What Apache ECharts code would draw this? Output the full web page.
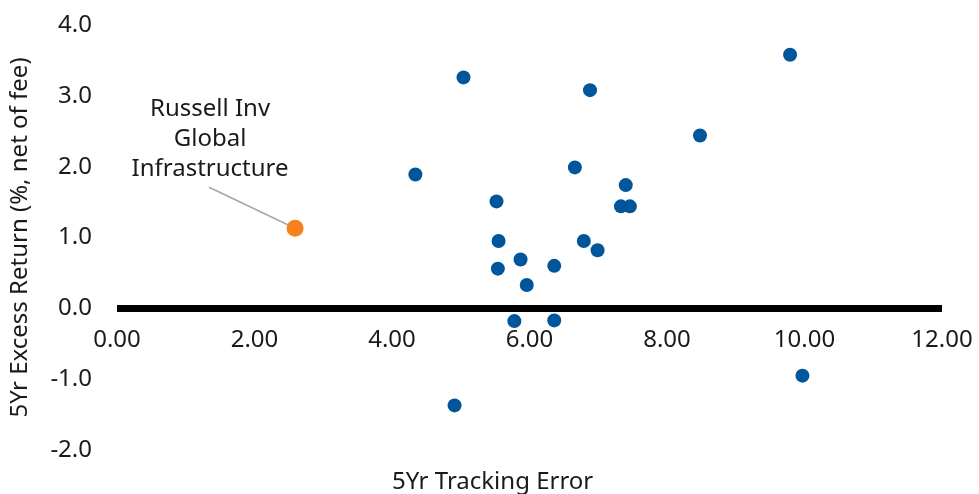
<!DOCTYPE html>
<html>
<head>
<meta charset="utf-8">
<script src="https://cdn.jsdelivr.net/npm/echarts@6/dist/echarts.min.js"></script>
<style>html,body{margin:0;padding:0;background:#fff}#c{width:979px;height:494px}</style>
</head>
<body>
<div id="c"></div>
<script>
// Peer funds: 5Yr tracking error (x) and 5Yr excess return (y)
const peerTrackingError = [5.04, 6.88, 4.34, 6.66, 7.40, 5.52, 7.33, 7.46, 5.55, 6.79, 6.99, 5.87, 5.54, 6.36, 5.96, 5.78, 6.36, 8.48, 9.79, 9.97, 4.91];
const peerExcessReturn  = [3.26, 3.08, 1.89, 1.99, 1.74, 1.51, 1.44, 1.44, 0.95, 0.95, 0.82, 0.69, 0.56, 0.60, 0.33, -0.18, -0.17, 2.44, 3.58, -0.95, -1.37];
// Highlighted fund
const highlightName = 'Russell Inv\nGlobal\nInfrastructure';
const highlightTrackingError = [2.59];
const highlightExcessReturn = [1.13];
const xTicks = [0, 2, 4, 6, 8, 10, 12];
const yTicks = [-2, -1, 0, 1, 2, 3, 4];
const xTitle = '5Yr Tracking Error';
const yTitle = '5Yr Excess Return (%, net of fee)';

const FONT = 'Noto Sans';
const chart = echarts.init(document.getElementById('c'), null, {renderer: 'canvas'});
const option = {
  animation: false,
  textStyle: {fontFamily: FONT},
  grid: {left: 115, right: 37, top: 25, bottom: 44, containLabel: false},
  xAxis: {
    type: 'value', min: xTicks[0], max: xTicks[xTicks.length - 1], interval: 2,
    axisLine: {show: true, onZero: false, lineStyle: {color: '#000', width: 7, cap: 'butt'}},
    axisTick: {show: false}, splitLine: {show: false},
    axisLabel: {margin: 20, fontSize: 24, color: '#1a1a1a', fontFamily: FONT,
      formatter: v => v.toFixed(2)}
  },
  yAxis: {
    type: 'value', min: yTicks[0], max: yTicks[yTicks.length - 1], interval: 1,
    axisLine: {show: false}, axisTick: {show: false}, splitLine: {show: false},
    axisLabel: {margin: 25, fontSize: 24, color: '#1a1a1a', fontFamily: FONT,
      formatter: v => v.toFixed(1)},
    name: yTitle, nameLocation: 'middle', nameGap: 85, nameRotate: 90,
    nameTextStyle: {fontSize: 24, color: '#1a1a1a', fontFamily: FONT}
  },
  series: [{
    type: 'scatter', symbolSize: 14,
    itemStyle: {color: '#00559b', opacity: 1},
    data: peerTrackingError.map((x, i) => [x, peerExcessReturn[i]])
  }, {
    type: 'scatter', symbolSize: 17, z: 3,
    itemStyle: {color: '#f5821f', opacity: 1},
    data: highlightTrackingError.map((x, i) => [x, highlightExcessReturn[i]]),
    label: {show: true, position: 'inside', formatter: highlightName, fontSize: 24,
      lineHeight: 30, color: '#1a1a1a', fontFamily: FONT, align: 'center'},
    labelLayout: {dx: -85, dy: -89}
  }]
};
chart.setOption(option);

// Move the x axis onto the zero line, using the library's own scale
const zeroY = chart.convertToPixel({yAxisIndex: 0}, 0);
const bottomY = chart.convertToPixel({yAxisIndex: 0}, yTicks[0]);
const pt = chart.convertToPixel({seriesIndex: 1}, [highlightTrackingError[0], highlightExcessReturn[0]]);
chart.setOption({
  xAxis: {offset: -(bottomY - zeroY)},
  graphic: [{
    type: 'text', left: 392, top: 470,
    style: {text: xTitle, fontSize: 24, fill: '#1a1a1a', fontFamily: FONT}
  }, {
    type: 'line', z: 1,
    shape: {x1: pt[0] - 86, y1: pt[1] - 41, x2: pt[0], y2: pt[1]},
    style: {stroke: '#a6a6a6', lineWidth: 1.5}
  }]
});
</script>
</body>
</html>
